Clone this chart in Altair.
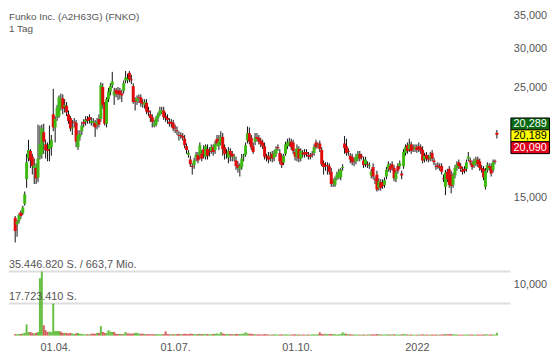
import altair as alt
import pandas as pd

FONT = "Liberation Sans"

title_text = "Funko Inc. (A2H63G) (FNKO)"
period_text = "1 Tag"

opens = [
13.65, 13.24, 13.47, 14.02, 13.95, 14.58, 16.34, 17.99, 18.64, 18.15,
17.22, 17.22, 16.48, 18.15, 18.39, 20.34, 19.22, 18.80, 18.80, 18.97,
22.11, 20.80, 21.82, 21.92, 22.90, 23.83, 22.90, 23.00, 22.11, 21.73,
20.70, 21.35, 21.26, 18.97, 19.90, 20.43, 21.35, 21.35, 21.63, 21.82,
21.26, 21.26, 21.26, 21.07, 21.63, 21.63, 25.11, 23.10, 21.16, 23.72,
24.57, 25.33, 24.14, 24.78, 24.68, 24.68, 24.35, 24.68, 25.89, 25.89,
26.82, 26.01, 25.22, 23.51, 23.51, 23.93, 23.93, 23.41, 23.10, 23.31,
22.50, 22.11, 21.82, 20.98, 21.07, 21.73, 22.11, 22.30, 22.50, 21.92,
21.73, 21.35, 21.35, 21.26, 20.80, 20.52, 20.08, 20.08, 19.99, 19.73,
19.05, 18.31, 17.91, 17.37, 17.45, 18.07, 18.31, 18.23, 18.39, 18.80,
18.15, 18.80, 18.64, 18.64, 18.97, 18.72, 19.73, 19.05, 19.39, 19.90,
18.97, 18.47, 18.07, 18.64, 18.39, 18.07, 17.83, 17.45, 17.15, 17.30,
18.15, 18.31, 19.56, 20.26, 19.82, 19.05, 19.47, 19.90, 19.82, 19.56,
19.39, 19.05, 18.15, 18.23, 18.15, 18.39, 18.07, 18.39, 18.97, 18.47,
18.15, 17.68, 18.39, 19.05, 19.30, 19.47, 19.39, 18.55, 18.15, 18.80,
17.99, 18.47, 18.55, 18.55, 18.31, 18.27, 18.39, 18.47, 19.39, 19.05,
19.30, 18.72, 17.60, 17.45, 17.45, 17.37, 16.92, 16.19, 15.91, 16.41,
16.48, 16.48, 17.22, 19.30, 19.05, 18.64, 18.23, 18.15, 17.83, 17.76,
17.99, 18.39, 18.19, 17.83, 17.52, 17.52, 17.37, 16.63, 17.30, 16.34,
16.70, 15.70, 16.12, 16.12, 15.91, 16.55, 17.15, 17.37, 17.52, 17.22,
16.34, 17.37, 17.37, 16.78, 17.37, 18.47, 19.14, 18.80, 19.22, 18.97,
18.80, 18.97, 19.05, 18.97, 18.72, 17.91, 18.31, 18.07, 17.99, 18.47,
17.83, 17.37, 17.45, 17.37, 17.37, 16.41, 15.77, 16.92, 17.15, 16.70,
15.91, 16.63, 17.22, 17.68, 17.37, 17.07, 17.15, 17.15, 17.99, 17.83,
17.60, 17.45, 17.60, 17.91, 17.76, 17.22, 17.15, 15.77, 17.07, 17.37,
17.37, 17.07, 17.80, 20.29]

closes = [
12.84, 13.41, 13.83, 13.77, 14.33, 15.23, 17.68, 18.72, 17.83, 17.37,
17.45, 16.41, 17.99, 19.22, 20.70, 19.47, 18.72, 18.64, 19.22, 19.64,
20.80, 21.63, 22.80, 23.93, 23.51, 22.70, 23.10, 22.30, 21.44, 20.70,
20.80, 21.26, 19.47, 20.08, 20.17, 20.98, 21.16, 21.54, 21.44, 21.54,
21.44, 21.35, 20.80, 21.35, 21.07, 25.33, 23.10, 21.16, 23.72, 24.57,
25.22, 25.78, 24.57, 24.35, 24.25, 24.25, 24.14, 25.55, 26.24, 26.12,
26.01, 25.89, 23.41, 23.41, 23.83, 23.83, 23.31, 23.21, 23.41, 22.40,
22.30, 21.73, 21.35, 21.16, 21.73, 22.11, 22.50, 22.50, 21.82, 21.73,
21.54, 21.16, 21.16, 20.70, 20.70, 20.43, 19.99, 19.99, 19.82, 19.14,
18.72, 18.47, 17.52, 17.30, 17.83, 18.31, 17.83, 19.14, 17.99, 18.31,
19.05, 18.23, 18.55, 18.97, 18.55, 19.30, 19.30, 19.47, 19.90, 18.80,
18.39, 18.39, 18.64, 18.31, 18.15, 18.15, 17.37, 17.22, 17.37, 17.99,
18.23, 19.14, 20.26, 19.47, 18.97, 18.55, 19.82, 19.73, 19.47, 19.22,
19.05, 18.15, 18.07, 17.91, 18.23, 17.99, 18.47, 18.80, 18.88, 17.76,
17.45, 18.23, 19.22, 19.39, 19.47, 18.97, 18.64, 18.15, 18.88, 17.99,
18.64, 18.39, 18.31, 18.39, 18.15, 18.15, 18.31, 18.97, 18.97, 19.14,
18.80, 17.52, 17.30, 17.37, 17.37, 16.92, 15.98, 16.05, 16.34, 16.70,
16.92, 17.07, 17.30, 18.88, 18.47, 18.55, 17.91, 17.68, 17.76, 18.15,
18.39, 17.99, 18.11, 17.45, 17.91, 17.45, 17.45, 16.92, 16.55, 16.26,
15.57, 16.19, 15.70, 15.84, 16.26, 17.07, 17.52, 17.07, 17.22, 16.41,
16.85, 17.00, 17.60, 16.63, 18.55, 18.97, 18.64, 19.22, 18.64, 18.80,
18.97, 18.72, 18.80, 18.64, 17.83, 18.23, 17.99, 17.91, 18.23, 17.99,
17.68, 17.30, 17.37, 17.22, 16.92, 16.34, 16.85, 16.34, 15.91, 15.84,
16.63, 17.22, 17.52, 17.37, 17.15, 16.92, 17.00, 17.68, 18.15, 17.68,
17.30, 17.76, 17.91, 17.52, 17.22, 17.07, 16.48, 17.00, 17.45, 17.22,
16.78, 17.68, 17.72, 20.09]

highs = [
13.77, 13.53, 13.95, 14.14, 14.45, 15.43, 18.39, 19.64, 18.80, 18.39,
17.99, 17.60, 21.07, 20.98, 21.07, 21.16, 19.64, 19.39, 20.98, 20.08,
24.89, 21.92, 23.10, 24.14, 24.35, 24.25, 23.72, 23.41, 22.50, 21.92,
21.54, 21.73, 21.54, 20.52, 20.52, 21.35, 21.63, 21.92, 21.92, 22.11,
21.82, 21.73, 21.54, 21.73, 22.11, 25.66, 25.55, 23.41, 23.93, 25.00,
25.55, 26.94, 25.00, 25.00, 25.11, 25.00, 24.78, 25.89, 27.05, 26.70,
27.05, 26.58, 25.55, 23.93, 24.14, 24.25, 24.25, 23.72, 23.72, 23.72,
22.90, 22.50, 22.11, 21.54, 21.92, 22.30, 22.90, 22.90, 22.90, 22.30,
22.11, 21.73, 21.63, 21.54, 21.07, 20.89, 20.43, 20.34, 20.26, 20.08,
19.30, 18.72, 18.23, 17.60, 18.07, 18.55, 18.55, 19.39, 18.72, 19.14,
19.22, 19.22, 18.97, 19.22, 19.22, 19.56, 20.08, 20.08, 20.43, 20.26,
19.22, 18.80, 18.97, 18.88, 18.64, 18.39, 18.15, 17.76, 17.60, 18.39,
18.39, 19.39, 20.89, 20.80, 20.08, 19.39, 20.26, 20.26, 20.08, 19.82,
19.64, 19.39, 18.39, 18.55, 18.55, 18.64, 18.72, 19.05, 19.22, 18.80,
18.39, 18.39, 19.47, 19.73, 19.82, 19.73, 19.64, 18.80, 19.22, 19.05,
18.88, 18.72, 18.80, 18.80, 18.55, 18.47, 18.64, 19.22, 19.64, 19.39,
19.56, 18.97, 17.83, 17.68, 17.68, 17.60, 17.22, 16.41, 16.55, 16.92,
17.15, 17.22, 17.52, 19.99, 19.73, 18.88, 18.47, 18.39, 18.07, 18.39,
18.64, 18.64, 18.39, 18.15, 18.15, 17.76, 17.68, 17.15, 17.60, 16.55,
17.00, 16.41, 16.34, 16.34, 16.48, 17.30, 17.76, 17.60, 17.76, 17.45,
17.07, 17.60, 17.83, 17.00, 18.80, 19.22, 19.39, 19.73, 19.47, 19.22,
19.22, 19.22, 19.39, 19.22, 19.05, 18.47, 18.55, 18.31, 18.55, 18.72,
18.07, 17.60, 17.68, 17.60, 17.60, 16.70, 17.07, 17.15, 17.37, 17.00,
16.85, 17.45, 17.76, 17.91, 17.60, 17.30, 17.37, 17.91, 18.55, 18.07,
17.83, 17.99, 18.15, 18.15, 17.99, 17.45, 17.37, 17.22, 17.68, 17.60,
17.60, 17.91, 17.91, 20.55]

lows = [
12.17, 12.50, 13.30, 13.59, 13.83, 14.45, 15.70, 17.76, 17.22, 16.70,
15.98, 15.98, 16.12, 17.91, 17.99, 18.39, 17.99, 17.76, 17.76, 18.23,
20.43, 19.39, 21.44, 21.73, 22.50, 22.11, 22.30, 21.92, 21.16, 20.43,
20.08, 20.80, 18.97, 18.72, 19.56, 20.08, 20.80, 20.98, 21.16, 21.16,
20.98, 20.89, 19.90, 20.61, 20.80, 21.35, 22.70, 20.98, 20.80, 23.41,
24.14, 25.00, 23.10, 23.93, 23.62, 23.72, 23.41, 24.35, 25.55, 25.55,
25.66, 25.44, 23.21, 22.50, 23.10, 23.31, 22.90, 22.80, 22.70, 22.11,
21.92, 21.35, 20.80, 20.80, 20.89, 21.35, 21.92, 22.11, 21.54, 21.35,
21.16, 20.89, 20.80, 20.43, 20.26, 20.08, 19.56, 19.73, 19.56, 18.88,
18.39, 18.07, 17.30, 16.70, 17.15, 17.76, 17.60, 17.91, 17.76, 17.99,
17.91, 17.91, 18.15, 18.39, 18.23, 18.39, 19.05, 18.72, 19.14, 18.23,
17.91, 17.99, 17.60, 17.76, 17.76, 17.76, 17.07, 16.85, 16.55, 17.07,
17.76, 18.15, 19.30, 19.22, 18.72, 18.39, 19.14, 19.47, 19.22, 18.97,
18.80, 17.91, 17.76, 17.60, 17.76, 17.68, 17.76, 18.15, 18.64, 17.52,
17.22, 17.45, 18.23, 18.80, 19.05, 18.72, 18.39, 17.83, 17.76, 17.68,
17.76, 18.07, 18.07, 18.15, 17.91, 17.91, 18.07, 18.23, 18.80, 18.88,
18.55, 17.37, 16.70, 17.00, 16.70, 16.70, 15.77, 15.77, 15.77, 16.26,
16.34, 16.26, 17.00, 18.39, 18.23, 18.23, 17.60, 17.45, 17.37, 17.52,
17.76, 17.76, 17.91, 17.22, 17.30, 17.22, 17.15, 16.41, 16.34, 15.98,
15.43, 15.50, 15.50, 15.63, 15.70, 16.34, 16.92, 16.85, 17.00, 16.19,
16.12, 16.78, 17.15, 16.34, 17.15, 18.23, 18.39, 18.55, 18.39, 18.55,
18.55, 18.47, 18.55, 18.39, 17.60, 17.68, 17.76, 17.68, 17.76, 17.76,
17.45, 17.07, 17.15, 17.00, 16.70, 16.12, 15.17, 16.12, 15.70, 15.30,
15.70, 16.41, 17.00, 17.15, 16.92, 16.70, 16.78, 16.92, 17.76, 17.45,
17.07, 17.22, 17.37, 17.30, 17.00, 16.85, 16.26, 15.57, 16.85, 17.00,
16.55, 16.85, 17.52, 19.75]

volumes_mio = [
0.8, 0.7, 0.8, 0.9, 1.2, 1.5, 6.2, 2.0, 2.0, 1.5,
1.2, 1.5, 2.0, 31.7, 35.45, 5.7, 3.0, 2.0, 2.2, 2.0,
17.72, 2.5, 2.5, 2.5, 2.2, 1.5, 1.5, 1.5, 1.2, 1.5,
1.2, 0.9, 1.2, 1.5, 1.0, 0.9, 0.7, 0.7, 0.8, 0.7,
1.0, 1.1, 1.0, 1.5, 1.5, 5.2, 2.0, 1.5, 1.5, 3.0,
2.2, 2.0, 2.0, 1.0, 0.9, 1.0, 0.8, 1.0, 2.0, 1.2,
1.2, 1.0, 1.2, 1.5, 1.5, 1.1, 1.0, 1.1, 0.8, 0.8,
0.8, 0.7, 0.8, 0.7, 0.8, 0.7, 0.7, 0.8, 0.8, 2.3,
0.9, 0.8, 0.7, 0.8, 0.7, 0.8, 0.9, 0.7, 0.8, 1.0,
0.9, 0.8, 1.1, 0.9, 0.8, 0.7, 0.8, 1.0, 0.8, 0.9,
0.8, 0.9, 0.7, 0.8, 0.9, 1.0, 1.2, 0.8, 1.9, 1.2,
0.9, 0.8, 0.9, 0.8, 0.7, 0.8, 0.9, 0.8, 0.9, 1.0,
1.1, 1.8, 1.2, 1.0, 1.0, 0.8, 0.7, 0.6, 0.7, 0.6,
0.6, 0.8, 0.7, 0.6, 0.5, 0.6, 0.7, 0.6, 0.5, 0.6,
0.7, 0.6, 0.7, 0.6, 0.5, 0.6, 0.6, 0.7, 0.6, 0.6,
0.5, 0.6, 0.5, 0.5, 0.6, 0.5, 0.6, 0.7, 0.6, 0.7,
1.8, 0.9, 0.8, 1.0, 0.8, 0.8, 0.9, 0.8, 0.7, 0.6,
0.7, 0.8, 1.8, 1.2, 1.0, 0.8, 0.7, 0.6, 0.6, 0.5,
0.6, 0.5, 0.5, 0.6, 0.5, 0.5, 0.6, 0.6, 0.7, 0.6,
0.8, 0.7, 0.6, 0.6, 0.5, 0.7, 0.7, 0.6, 0.6, 0.7,
0.6, 0.5, 0.6, 0.6, 0.9, 0.7, 0.6, 0.5, 0.6, 0.5,
0.5, 0.5, 0.6, 0.5, 0.7, 0.6, 0.5, 0.5, 0.5, 0.6,
0.5, 0.6, 0.5, 0.5, 0.6, 0.7, 0.9, 0.7, 0.8, 0.8,
0.7, 0.6, 0.6, 0.5, 0.5, 0.5, 0.5, 0.6, 0.6, 0.5,
0.6, 0.5, 0.5, 0.6, 0.5, 0.5, 0.6, 0.8, 0.6, 0.5,
0.6, 0.6, 0.5, 1.5]

x_tick_pos = [21, 84, 148, 211]
x_tick_labels = ["01.04.", "01.07.", "01.10.", "2022"]
price_ticks = [10, 15, 20, 25, 30, 35]
vol_grid = [35.44682, 17.72341]
vol_grid_labels = ["35.446.820 S. / 663,7 Mio.", "17.723.410 S."]
quote_values = [20.289, 20.189, 20.090]
quote_labels = ["20,289", "20,189", "20,090"]
quote_bg = ["#0a6a12", "#ffff00", "#e2001a"]
quote_fg = ["#ffffff", "#000000", "#ffffff"]

assert len(opens) == len(closes) == len(highs) == len(lows) == len(volumes_mio)

W, H = 506, 326
GREEN, RED = "#3fba12", "#e00b0b"

n = len(opens)
df = pd.DataFrame({"i": list(range(n)), "open": opens, "close": closes,
                   "high": highs, "low": lows, "vol": volumes_mio})
prev = [opens[0]] + closes[:-1]
df["vup"] = [c >= p for p, c in zip(prev, closes)]

xscale = alt.Scale(domain=[-0.65, 257.5], nice=False, zero=False)
pscale = alt.Scale(type="log", domain=[7.89, 35.51], nice=False)
vscale = alt.Scale(domain=[0, 178.8], nice=False, zero=True)

xlabel_expr = " : ".join(f"datum.value == {p} ? '{l}'" for p, l in zip(x_tick_pos, x_tick_labels)) + " : ''"
x_axis = alt.Axis(values=x_tick_pos, labelExpr=xlabel_expr, domain=False, ticks=False,
                  grid=False, title=None, labelFont=FONT, labelFontSize=11,
                  labelColor="#555555", labelPadding=6, labelFlush=False, labelOverlap=False)
p_axis = alt.Axis(orient="right", values=price_ticks,
                  labelExpr="replace(format(datum.value, '.3f'), '.', ',')",
                  domain=False, ticks=False, grid=False, title=None, labelFont=FONT,
                  labelFontSize=11, labelColor="#555555", labelPadding=3, labelAlign="left",
                  labelFlush=False, labelOverlap=False)

X = alt.X("i:Q", scale=xscale, axis=x_axis)

base = alt.Chart(df)

grid_df = pd.DataFrame({"v": vol_grid, "label": vol_grid_labels})
grid = alt.Chart(grid_df).mark_rule(color="#dedede", strokeWidth=2).encode(
    y=alt.Y("v:Q", scale=vscale, axis=None), x=alt.value(0), x2=alt.value(W))
grid_text = alt.Chart(grid_df).mark_text(align="left", baseline="bottom", dy=-2,
                                         fontSize=11, font=FONT, color="#555555").encode(
    y=alt.Y("v:Q", scale=vscale, axis=None), x=alt.value(0), text="label:N")

vol = base.mark_bar(size=2, opacity=0.9).encode(
    x=X, y=alt.Y("vol:Q", scale=vscale, axis=None),
    color=alt.condition("datum.vup", alt.value("#58b830"), alt.value("#d24a4a")))

wick = base.mark_rule(color="#111111", strokeWidth=1).encode(
    x=X, y=alt.Y("low:Q", scale=pscale, axis=None), y2="high:Q")

body = base.mark_bar(size=3).encode(
    x=X, y=alt.Y("open:Q", scale=pscale, axis=p_axis), y2="close:Q",
    color=alt.condition("datum.close >= datum.open", alt.value(GREEN), alt.value(RED)))

t1 = alt.Chart(pd.DataFrame({"t": [title_text]})).mark_text(
    align="left", baseline="alphabetic", fontSize=10, font=FONT, color="#555555").encode(
    text="t:N", x=alt.value(0), y=alt.value(8))
t2 = alt.Chart(pd.DataFrame({"t": [period_text]})).mark_text(
    align="left", baseline="alphabetic", fontSize=10, font=FONT, color="#555555").encode(
    text="t:N", x=alt.value(0), y=alt.value(20))

box_path = "M-1.625,-0.5H1.625V0.5H-1.625Z"
offsets = [-10, 2, 14]
box_layers = []
for lab, bg, fg, off in zip(quote_labels, quote_bg, quote_fg, offsets):
    qd = pd.DataFrame({"v": [quote_values[1]], "lab": [lab]})
    box = alt.Chart(qd).mark_point(shape=box_path, size=576, filled=True, fill=bg,
                                   stroke="#000000", strokeWidth=1, opacity=1,
                                   yOffset=off).encode(
        y=alt.Y("v:Q", scale=pscale, axis=None), x=alt.value(W + 20))
    txt = alt.Chart(qd).mark_text(fontSize=11, font=FONT, color=fg, align="center",
                                  baseline="middle", yOffset=off + 0.5).encode(
        y=alt.Y("v:Q", scale=pscale, axis=None), x=alt.value(W + 20), text="lab:N")
    box_layers += [box, txt]

chart = alt.layer(grid, vol, wick, body, grid_text, t1, t2, *box_layers).resolve_scale(
    y="independent").properties(width=W, height=H, padding=0, background="white"
).configure_view(stroke=None)

chart.save("out.html", embed_options={"renderer": "svg", "actions": False})
